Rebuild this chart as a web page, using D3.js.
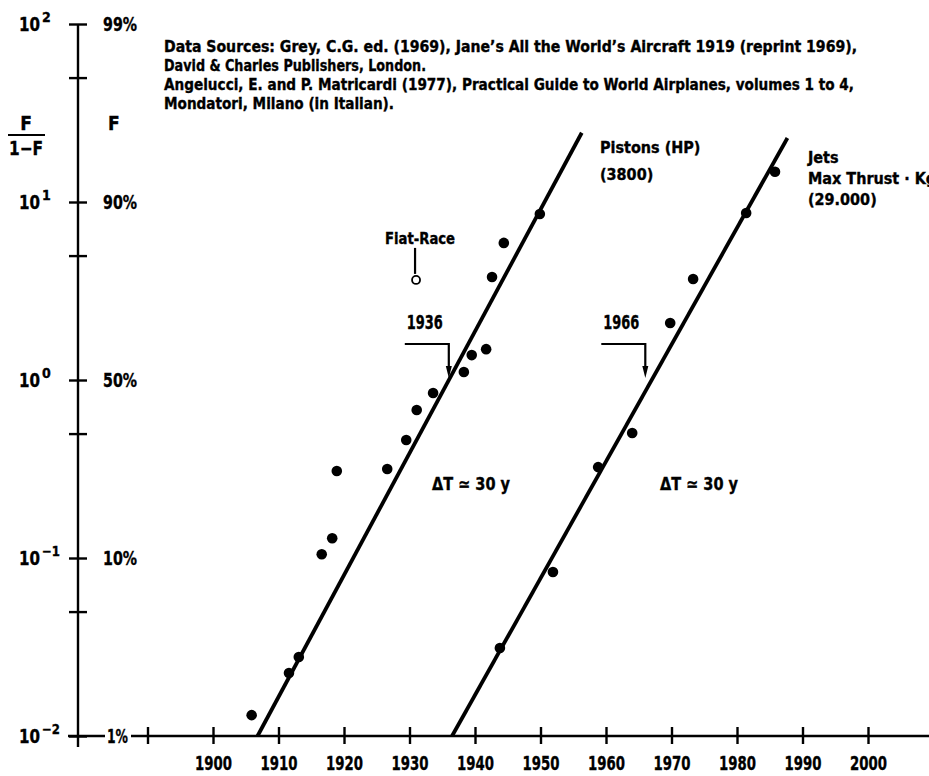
<!DOCTYPE html>
<html>
<head>
<meta charset="utf-8">
<script src="https://cdn.jsdelivr.net/npm/d3@7"></script>
<style>
  body { margin: 0; background: #fff; }
  svg text {
    font-family: "DejaVu Sans Condensed", "DejaVu Sans", sans-serif;
    font-stretch: condensed;
    font-weight: bold;
    fill: #000;
    stroke: #000;
    stroke-width: 0.35px;
  }
</style>
</head>
<body>
<svg id="chart" width="929" height="776"></svg>
<script>
// Observed market shares, plotted as F/(1-F) on a log scale (Fisher-Pry transform)
const pistonYears  = [1905.9, 1911.6, 1913.1, 1916.6, 1918.2, 1918.9, 1926.6, 1929.5,
                      1931.1, 1933.6, 1938.3, 1939.5, 1941.7, 1942.6, 1944.4, 1949.9];
const pistonValues = [0.0131, 0.0226, 0.0278, 0.105, 0.129, 0.308, 0.316, 0.460,
                      0.678, 0.845, 1.11, 1.38, 1.49, 3.79, 5.89, 8.57];
const jetYears     = [1943.8, 1951.9, 1958.8, 1964.0, 1969.8, 1973.3, 1981.4, 1985.8];
const jetValues    = [0.0312, 0.0834, 0.324, 0.504, 2.09, 3.69, 8.67, 14.8];
const fiatYears    = [1931.0];
const fiatValues   = [3.65];

// Fitted logistic trends, given by their end points
const pistonFitYears  = [1906.8, 1956.3];
const pistonFitValues = [0.01, 24.5];
const jetFitYears     = [1936.5, 1987.7];
const jetFitValues    = [0.01, 22.9];

// Half-way (F = 50%) points marked with arrows
const midpointYears  = [1936, 1966];
const midpointLabels = ["1936", "1966"];

// Axis ticks and labels
const yTicks      = [100, 50, 10, 5, 1, 0.5, 0.1, 0.05, 0.01];
const yDecades    = [100, 10, 1, 0.1, 0.01];
const yExponents  = ["2", "1", "0", "\u22121", "\u22122"];
const pctLabels   = ["99%", "90%", "50%", "10%", "1%"];
const xTicks      = [1890, 1900, 1910, 1920, 1930, 1940, 1950, 1960, 1970, 1980, 1990, 2000];
const xTickLabels = ["", "1900", "1910", "1920", "1930", "1940", "1950", "1960", "1970", "1980", "1990", "2000"];

const sourceLines = [
  "Data Sources: Grey, C.G. ed. (1969), Jane\u2019s All the World\u2019s Aircraft 1919 (reprint 1969),",
  "David & Charles Publishers, London.",
  "Angelucci, E. and P. Matricardi (1977), Practical Guide to World Airplanes, volumes 1 to 4,",
  "Mondatori, Milano (in Italian)."
];

const svg = d3.select("#chart");
const W = 929;
const axisX = 78;

// squeeze a text horizontally to a set width (the lettering is a narrow bold face)
function squeeze(sel, w) {
  return sel.attr("textLength", w).attr("lengthAdjust", "spacingAndGlyphs");
}

const x = d3.scaleLinear().domain([1900, 2000]).range([213, 868]);
const y = d3.scaleLog().domain([0.01, 100]).range([736, 24]);
const baseY = y(0.01);

// ---- x axis ----
const xAxis = d3.axisBottom(x)
  .tickValues(xTicks)
  .tickSize(8)
  .tickPadding(0)
  .tickFormat((d, i) => xTickLabels[i]);
const gx = svg.append("g").attr("transform", `translate(0,${baseY})`).call(xAxis);
gx.select(".domain").remove();
gx.selectAll(".tick line").attr("y1", -9).attr("y2", 8).attr("stroke", "#000").attr("stroke-width", 2.4);
gx.selectAll(".tick text")
  .attr("font-size", 19).attr("y", 34).attr("dy", 0)
  .each(function (d, i) { if (xTickLabels[i]) squeeze(d3.select(this), 37); });

// baseline, broken where the "1%" label sits
svg.append("line").attr("x1", 68).attr("x2", 105).attr("y1", baseY).attr("y2", baseY)
  .attr("stroke", "#000").attr("stroke-width", 2.4);
svg.append("line").attr("x1", 131).attr("x2", W).attr("y1", baseY).attr("y2", baseY)
  .attr("stroke", "#000").attr("stroke-width", 2.4);

// ---- y axis ----
const yAxis = d3.axisLeft(y).tickValues(yTicks).tickSize(9).tickFormat("");
const gy = svg.append("g").attr("transform", `translate(${axisX},0)`).call(yAxis);
gy.select(".domain").remove();
gy.selectAll(".tick line").attr("x1", 9).attr("stroke", "#000").attr("stroke-width", 2.4);
svg.append("line").attr("x1", axisX).attr("x2", axisX)
  .attr("y1", y(100)).attr("y2", baseY + 11)
  .attr("stroke", "#000").attr("stroke-width", 2.4);

// power-of-ten labels: "10" ends at x = 40, exponent raised after it
yDecades.forEach((v, i) => {
  const ty = y(v) + 7;
  squeeze(svg.append("text").attr("x", 40).attr("y", ty)
    .attr("text-anchor", "end").attr("font-size", 19).text("10"), 21);
  const ex = svg.append("text").attr("x", 42).attr("y", ty - 9)
    .attr("font-size", 14).text(yExponents[i]);
  if (yExponents[i].length > 1) squeeze(ex, 18);
});

// percentage labels
pctLabels.forEach((p, i) => {
  const last = i === pctLabels.length - 1;
  squeeze(svg.append("text").attr("x", last ? 107 : 103).attr("y", y(yDecades[i]) + 7)
    .attr("font-size", 19).text(p), last ? 21 : 34);
});

// axis titles: F/(1-F) and F
svg.append("text").attr("x", 26).attr("y", 130).attr("text-anchor", "middle")
  .attr("font-size", 19).text("F");
svg.append("line").attr("x1", 8).attr("x2", 45).attr("y1", 135).attr("y2", 135)
  .attr("stroke", "#000").attr("stroke-width", 2);
squeeze(svg.append("text").attr("x", 9).attr("y", 155)
  .attr("font-size", 19).text("1\u2212F"), 34);
svg.append("text").attr("x", 108).attr("y", 130).attr("font-size", 19).text("F");

// ---- source notes ----
const srcWidths = [693, 262, 690, 230];
sourceLines.forEach((s, i) => {
  squeeze(svg.append("text").attr("x", 164).attr("y", 52 + i * 19)
    .attr("font-size", 16).text(s), srcWidths[i]);
});

// ---- fitted trend lines ----
const line = d3.line().x(d => x(d[0])).y(d => y(d[1]));
const fits = [
  d3.zip(pistonFitYears, pistonFitValues),
  d3.zip(jetFitYears, jetFitValues)
];
svg.selectAll("path.fit").data(fits).join("path")
  .attr("class", "fit")
  .attr("d", line)
  .attr("fill", "none").attr("stroke", "#000").attr("stroke-width", 3.8);

// ---- data points ----
const pts = d3.zip(pistonYears, pistonValues).concat(d3.zip(jetYears, jetValues));
svg.selectAll("circle.obs").data(pts).join("circle")
  .attr("class", "obs")
  .attr("cx", d => x(d[0])).attr("cy", d => y(d[1])).attr("r", 5.3)
  .attr("fill", "#000");

// Fiat race engine: open circle with a marker stem and label
const fiat = d3.zip(fiatYears, fiatValues)[0];
const fx = x(fiat[0]), fy = y(fiat[1]);
svg.append("circle").attr("cx", fx).attr("cy", fy).attr("r", 4)
  .attr("fill", "#fff").attr("stroke", "#000").attr("stroke-width", 1.8);
svg.append("line").attr("x1", fx - 1).attr("x2", fx - 1).attr("y1", fy - 32).attr("y2", fy - 6)
  .attr("stroke", "#000").attr("stroke-width", 2.2);
squeeze(svg.append("text").attr("x", fx - 31).attr("y", fy - 36)
  .attr("font-size", 16).text("Fiat-Race"), 70);

// ---- 50% arrows ----
midpointYears.forEach((yr, i) => {
  const tx = x(yr), ty = y(1) - 2;
  const hy = y(1) - 36;
  svg.append("path")
    .attr("d", `M${tx - 44},${hy} H${tx} V${ty - 10}`)
    .attr("fill", "none").attr("stroke", "#000").attr("stroke-width", 2.2);
  svg.append("path")
    .attr("d", `M${tx - 3},${ty - 12} L${tx + 3},${ty - 12} L${tx},${ty} Z`)
    .attr("fill", "#000");
  squeeze(svg.append("text").attr("x", tx - 42).attr("y", hy - 15)
    .attr("font-size", 19).text(midpointLabels[i]), 36);
});

// ---- takeover time notes ----
[432, 660].forEach(lx => {
  squeeze(svg.append("text").attr("x", lx).attr("y", 490)
    .attr("font-size", 17).text("\u0394T \u2243 30 y"), 78);
});

// ---- series labels ----
svg.append("text").attr("x", 600).attr("y", 153).attr("font-size", 16).text("Pistons (HP)");
svg.append("text").attr("x", 600).attr("y", 180).attr("font-size", 16).text("(3800)");
svg.append("text").attr("x", 808).attr("y", 163).attr("font-size", 16).text("Jets");
svg.append("text").attr("x", 808).attr("y", 184).attr("font-size", 16).text("Max Thrust \u00b7 Kg");
svg.append("text").attr("x", 808).attr("y", 205).attr("font-size", 16).text("(29.000)");
</script>
</body>
</html>
